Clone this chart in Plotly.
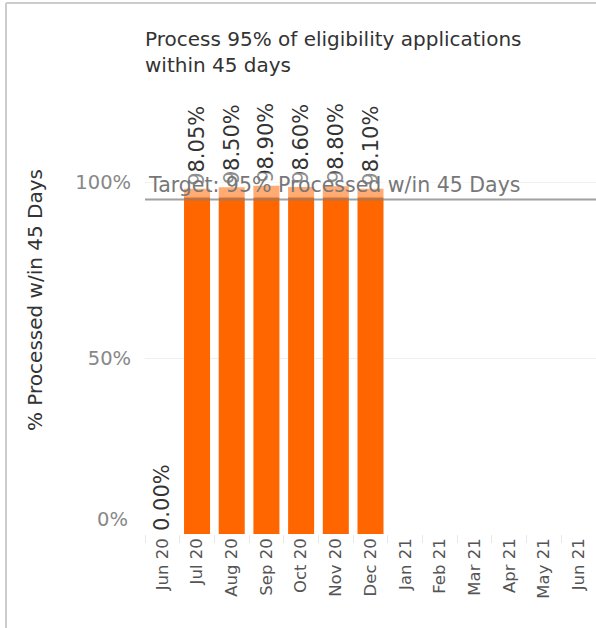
import plotly.graph_objects as go

months = ["Jun 20", "Jul 20", "Aug 20", "Sep 20", "Oct 20", "Nov 20", "Dec 20",
          "Jan 21", "Feb 21", "Mar 21", "Apr 21", "May 21", "Jun 21"]
pct_processed = [0.00, 98.05, 98.50, 98.90, 98.60, 98.80, 98.10,
                 None, None, None, None, None, None]
target = 95
title_text = "Process 95% of eligibility applications<br>within 45 days"
target_label = "Target: 95% Processed w/in 45 Days"
y_title = "% Processed w/in 45 Days"
y_tickvals = [0, 50, 100]
y_ticktext = ["", "50%", "100%"]

labels = [f"{v:.2f}%" if v is not None else "" for v in pct_processed]

FONT = "DejaVu Sans"
W, H = 596, 628
L, R, T, B = 145, 0, 90, 94
PW, PH = W - L - R, H - T - B

fig = go.Figure()
fig.add_trace(go.Bar(
    x=months, y=pct_processed, text=labels,
    textposition="outside", textangle=-90, constraintext="none",
    textfont=dict(family=FONT, size=21, color="#333333"),
    marker=dict(color="#FF6600", line=dict(width=0)),
    cliponaxis=False, hoverinfo="skip",
))

fig.update_layout(
    width=W, height=H,
    margin=dict(l=L, r=R, t=T, b=B, autoexpand=False),
    paper_bgcolor="white", plot_bgcolor="white",
    bargap=0.25, showlegend=False,
    font=dict(family=FONT),
    title=dict(text=title_text, x=145/W, xanchor="left", xref="container",
               y=1 - 46/H, yanchor="top", yref="container",
               font=dict(family=FONT, size=20, color="#333333")),
    xaxis=dict(
        type="category", categoryorder="array", categoryarray=months,
        tickangle=-90, tickfont=dict(family=FONT, size=16.5, color="#555555"),
        showgrid=False, showline=False, zeroline=False,
        ticks="outside", tickson="boundaries", ticklen=8, tickcolor="#e8e8e8",
        automargin=False,
    ),
    yaxis=dict(
        range=[0, PH / 3.52], tickvals=y_tickvals, ticktext=y_ticktext,
        tickfont=dict(family=FONT, size=19.5, color="#888888"),
        showgrid=True, gridcolor="#efefef", zeroline=False, showline=False,
        ticks="outside", ticklen=9, tickcolor="#ffffff",
        automargin=False,
    ),
)

# y-axis title placed like the reference
fig.add_annotation(text=y_title, xref="paper", yref="paper",
                   x=(35 - L) / PW, y=(H - B - 300) / PH, xanchor="center",
                   yanchor="middle", textangle=-90, showarrow=False,
                   font=dict(family=FONT, size=20, color="#333333"))

# 0% label, raised like the reference
fig.add_annotation(text="0%", xref="paper", yref="y", x=0, y=0, xanchor="right",
                   yanchor="middle", xshift=-15, yshift=15, showarrow=False,
                   font=dict(family=FONT, size=19.5, color="#888888"))

# target line
fig.add_shape(type="line", xref="paper", yref="y", x0=0, x1=1, y0=target, y1=target,
              line=dict(color="rgba(130,130,130,0.75)", width=2), layer="above")
fig.add_annotation(text=target_label, xref="paper", yref="y", x=0.005, y=target,
                   xanchor="left", yanchor="bottom", showarrow=False, yshift=2,
                   font=dict(family=FONT, size=20.5, color="#777777"),
                   bgcolor="rgba(255,255,255,0.45)", borderpad=0)

# dashboard frame lines (top and left)
x_frame = (6 - L) / PW
y_top = (H - B - 3) / PH
fig.add_shape(type="line", xref="paper", yref="paper",
              x0=x_frame, x1=1.05, y0=y_top, y1=y_top,
              line=dict(color="#cccccc", width=2), layer="above")
fig.add_shape(type="line", xref="paper", yref="paper",
              x0=x_frame, x1=x_frame, y0=-B / PH, y1=y_top,
              line=dict(color="#cccccc", width=2), layer="above")

fig.write_html("out.html", config={"displayModeBar": False},
               post_script="document.body.style.margin='0';")
